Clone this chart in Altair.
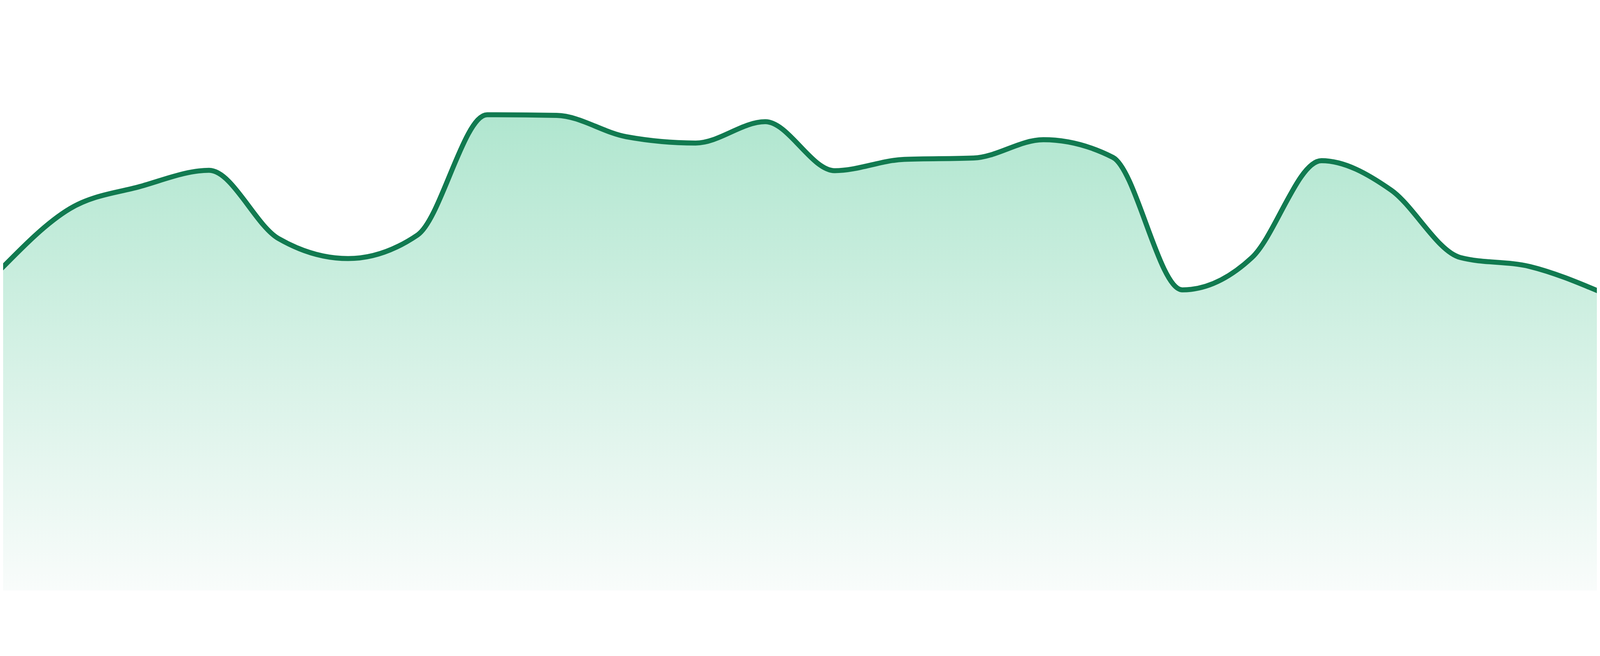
import altair as alt
import pandas as pd

# Series values (height above baseline, arbitrary units), 24 evenly spaced points
index = list(range(24))
values = [96.4, 114.7, 121.3, 126.2, 105.7, 99.7, 106.8, 142.9, 142.7, 136.3,
          134.4, 140.8, 126.1, 129.5, 129.9, 135.4, 130.1, 90.3, 100.0, 129.1,
          120.3, 100.0, 97.3, 89.8]

df = pd.DataFrame({"i": index, "v": values})

x_enc = alt.X("i:Q", axis=None,
              scale=alt.Scale(domain=[8 * 23 / 4800, 4792 * 23 / 4800],
                              nice=False, zero=False))
y_enc = alt.Y("v:Q", axis=None,
              scale=alt.Scale(domain=[0, 162.4], nice=False, zero=True))

area = alt.Chart(df).mark_area(
    interpolate="monotone",
    clip=True,
    color=alt.Gradient(
        gradient="linear",
        x1=0, y1=0, x2=0, y2=1,
        stops=[
            alt.GradientStop(offset=0, color="#b0e6cf"),
            alt.GradientStop(offset=1, color="#f9fcfb"),
        ],
    ),
).encode(x=x_enc, y=y_enc)

line = alt.Chart(df).mark_line(
    interpolate="monotone",
    clip=True,
    color="#117a50",
    strokeWidth=15,
).encode(x=x_enc, y=y_enc)

chart = alt.layer(area, line).properties(
    width=4784,
    height=1624,
    padding=0,
    autosize=alt.AutoSizeParams(type="none"),
    background="#ffffff",
).configure_view(stroke=None)

chart.save("out.html", embed_options={"renderer": "svg", "actions": False})
